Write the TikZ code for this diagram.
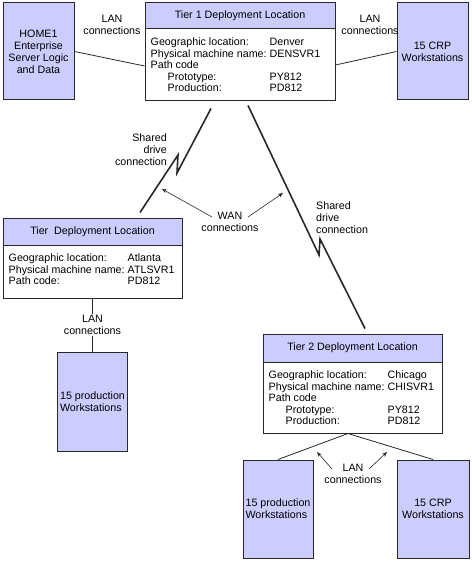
\documentclass[tikz,border=0pt]{standalone}
\usepackage{fontspec}
\setmainfont{Liberation Sans}
\usetikzlibrary{arrows.meta}
\definecolor{lavender}{RGB}{204,204,255}
\definecolor{edge}{RGB}{40,40,40}
\newcommand{\infotab}[1]{{\fontsize{10.7}{11.5}\selectfont\begin{tabular}{@{}p{119pt}@{}l@{}}#1\end{tabular}}}
\newcommand{\ind}{\hspace*{17pt}}
\begin{document}
\begin{tikzpicture}[x=1pt, y=-1pt, font=\fontsize{10.7}{12}\selectfont,
    wsbox/.style={draw=edge, line width=1pt, fill=lavender, minimum width=71pt, minimum height=97pt, inner sep=1pt},
    headbox/.style={draw=edge, line width=1pt, fill=lavender, minimum height=27pt, inner sep=1pt},
    framebox/.style={draw=edge, line width=1pt, fill=white, inner sep=0pt},
    link/.style={draw=edge, line width=0.8pt},
    wan/.style={draw=edge, line width=1.6pt},
    pointer/.style={draw=edge, line width=0.6pt, -{Stealth[length=5pt,width=4pt]}},
    lbl/.style={align=center, inner sep=1pt}]
  \useasboundingbox (0,0) rectangle (471,561);
  \node[wsbox, align=center] (Home) at (38.5,51.5) {HOME1\\Enterprise\\Server Logic\\and Data};
  \node[wsbox, align=center] (CRP1) at (432.5,51.5) {15 CRP\\Workstations};
  \node[framebox, minimum width=190pt, minimum height=98pt] (Tier1) at (240,52) {};
  \node[headbox, minimum width=190pt, minimum height=26pt, anchor=north] (Tier1Head) at (Tier1.north) {Tier 1 Deployment Location};
  \node[anchor=north west, inner sep=0pt] (Tier1Info) at ([xshift=6pt,yshift=-8pt]Tier1Head.south west) {\infotab{Geographic location: & Denver\\ Physical machine name: & DENSVR1\\ Path code & \\ \ind Prototype: & PY812\\ \ind Production: & PD812}};
  \node[framebox, minimum width=179pt, minimum height=80pt] (Atl) at (92.5,258) {};
  \node[headbox, minimum width=179pt, anchor=north] (AtlHead) at (Atl.north) {Tier\ \ Deployment Location};
  \node[anchor=north west, inner sep=0pt] (AtlInfo) at ([xshift=6pt,yshift=-8pt]AtlHead.south west) {\infotab{Geographic location: & Atlanta\\ Physical machine name: & ATLSVR1\\ Path code: & PD812}};
  \node[framebox, minimum width=179pt, minimum height=99pt] (Tier2) at (352.5,383.5) {};
  \node[headbox, minimum width=179pt, minimum height=28pt, anchor=north] (Tier2Head) at (Tier2.north) {Tier 2 Deployment Location};
  \node[anchor=north west, inner sep=0pt] (Tier2Info) at ([xshift=6pt,yshift=-8pt]Tier2Head.south west) {\infotab{Geographic location: & Chicago\\ Physical machine name: & CHISVR1\\ Path code & \\ \ind Prototype: & PY812\\ \ind Production: & PD812}};
  \node[wsbox, minimum width=70pt, minimum height=99pt, align=left] (Prod1) at (92.5,401.5) {15 production\\Workstations};
  \node[wsbox, minimum width=70pt, minimum height=98pt, align=left] (Prod2) at (278,509) {15 production\\Workstations};
  \node[wsbox, minimum width=72pt, minimum height=98pt, align=center] (CRP2) at (433,509) {15 CRP\\Workstations};
  \draw[link] (Home.east) -- ([yshift=-14pt]Tier1.west);
  \draw[link] ([yshift=-13pt]Tier1.east) -- (CRP1.west);
  \node[lbl] (LANa) at (112,24.5) {LAN\\connections};
  \node[lbl] (LANb) at (370,24.5) {LAN\\connections};
  \draw[link] (Atl.south) -- node[lbl, fill=white] (LANc) {LAN\\connections} (Prod1.north);
  \draw[link] ([xshift=-4.5pt]Tier2.south) -- (Prod2.north);
  \draw[link] ([xshift=-4.5pt]Tier2.south) -- (CRP2.north);
  \node[lbl] (LANd) at (353,474) {LAN\\connections};
  \coordinate (LANdL) at (317,452);
  \coordinate (LANdR) at (387,452);
  \draw[pointer] ([xshift=-21pt,yshift=5pt]LANd.center) -- (LANdL);
  \draw[pointer] ([xshift=16pt,yshift=5pt]LANd.center) -- (LANdR);
  \draw[wan] ([xshift=-29pt,yshift=-7pt]Tier1.south) -- (177,173) -- (178,155) -- ([xshift=47.5pt,yshift=5pt]Atl.north);
  \draw[wan] ([xshift=8pt,yshift=-4pt]Tier1.south) -- (319,255) -- (320,239) -- ([xshift=12.5pt,yshift=5pt]Tier2.north);
  \node[lbl, align=right, anchor=east] (ShareL) at (168,150) {Shared\\drive\\connection};
  \node[lbl, align=left, anchor=west] (ShareR) at (315,218) {Shared\\drive\\connection};
  \node[lbl] (WAN) at (230,222) {WAN\\connections};
  \coordinate (WanL) at (162,189);
  \coordinate (WanR) at (283,193);
  \draw[pointer] ([xshift=-18pt,yshift=5pt]WAN.center) -- (WanL);
  \draw[pointer] ([xshift=18pt,yshift=5pt]WAN.center) -- (WanR);
\end{tikzpicture}
\end{document}
